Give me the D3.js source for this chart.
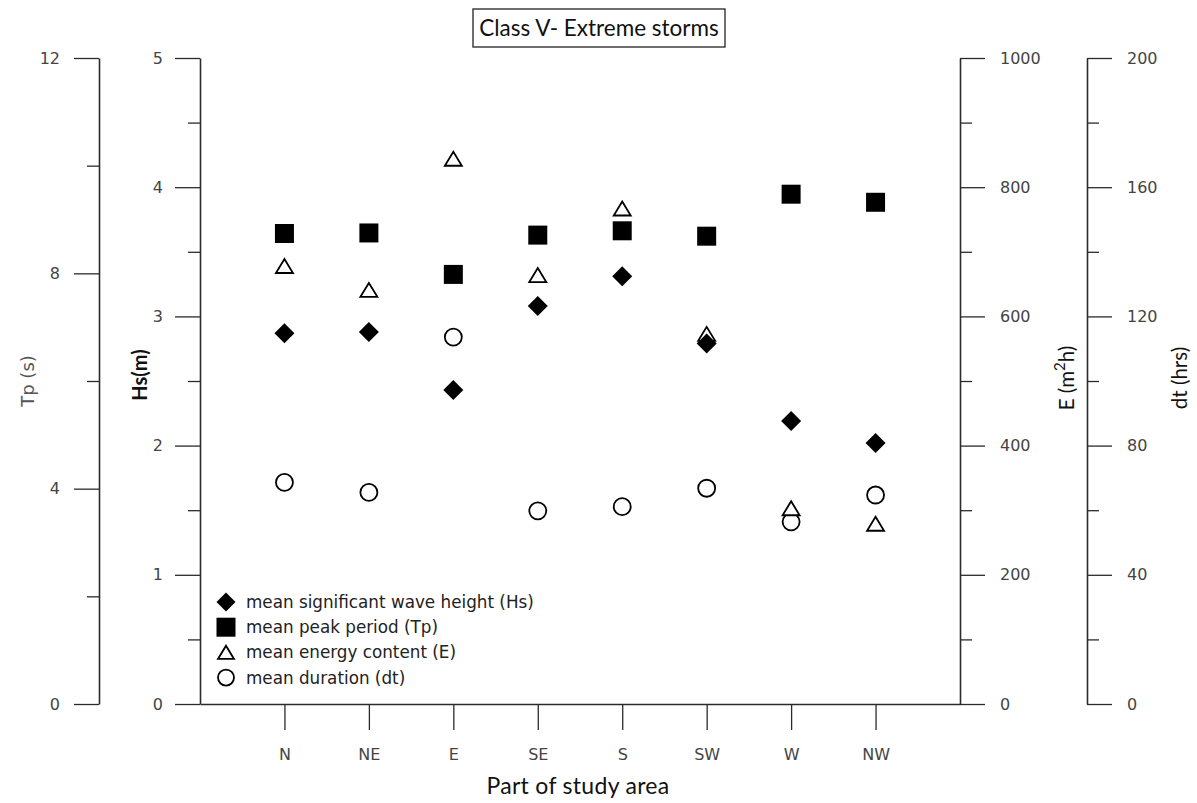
<!DOCTYPE html>
<html>
<head>
<meta charset="utf-8">
<script src="https://cdn.jsdelivr.net/npm/d3@7"></script>
<style>
  body { margin: 0; background: #fff; }
  svg { display: block; }
</style>
</head>
<body>
<svg id="chart" width="1197" height="803"></svg>
<script>
// Storm class V statistics per part of the study area
const regions = ["N", "NE", "E", "SE", "S", "SW", "W", "NW"];
const hsValues = [2.87, 2.88, 2.43, 3.08, 3.31, 2.79, 2.19, 2.02];          // m
const tpValues = [8.74, 8.75, 7.98, 8.71, 8.79, 8.69, 9.47, 9.32];          // s
const energyValues = [678, 641, 844, 664, 767, 573, 303, 279];              // m2h
const durationValues = [68.6, 65.5, 113.6, 59.8, 61.1, 66.8, 56.4, 64.7];   // hrs

const hsTicks = [0, 1, 2, 3, 4, 5];
const tpTicks = [0, 4, 8, 12];
const energyTicks = [0, 200, 400, 600, 800, 1000];
const durationTicks = [0, 40, 80, 120, 160, 200];

const legendLabels = [
  "mean significant wave height (Hs)",
  "mean peak period (Tp)",
  "mean energy content (E)",
  "mean duration (dt)"
];
const titleText = "Class V- Extreme storms";
const xTitle = "Part of study area";

const svg = d3.select("#chart");
const W = 1197, H = 803;
const plot = { left: 200, right: 960, top: 58, bottom: 704 };
const axisX = { tp: 99, hs: 200, e: 960, dt: 1087 };
const axisColor = "#2b2b2b";
const tickFont = "'DejaVu Sans', Verdana, sans-serif";
const labelFont = "Lato, 'Open Sans', sans-serif";

svg.append("rect").attr("width", W).attr("height", H).attr("fill", "#fff");

// Scales
const x = d3.scalePoint().domain(regions).range([plot.left, plot.right]).padding(1);
const yHs = d3.scaleLinear().domain([0, 5]).range([plot.bottom, plot.top]);
const yTp = d3.scaleLinear().domain([0, 12]).range([plot.bottom, plot.top]);
const yE = d3.scaleLinear().domain([0, 1000]).range([plot.bottom, plot.top]);
const yDt = d3.scaleLinear().domain([0, 200]).range([plot.bottom, plot.top]);

function mids(ticks) {
  const out = [];
  for (let i = 0; i < ticks.length - 1; i++) out.push((ticks[i] + ticks[i + 1]) / 2);
  return out;
}

// Vertical axis with long labelled ticks and short unlabelled minor ticks
function drawAxis(scale, ticks, xpos, side, pad) {
  const make = side === "left" ? d3.axisLeft : d3.axisRight;
  const g = svg.append("g").attr("transform", `translate(${xpos},0)`);
  g.append("g")
    .call(make(scale).tickValues(mids(ticks)).tickSize(12).tickSizeOuter(0).tickFormat(""))
    .call(s => s.select(".domain").remove());
  const major = g.append("g")
    .call(make(scale).tickValues(ticks).tickSize(25).tickSizeOuter(0)
      .tickPadding(pad).tickFormat(d3.format("d")));
  g.selectAll("line").attr("stroke", axisColor).attr("stroke-width", 1.3);
  major.select(".domain").attr("stroke", axisColor).attr("stroke-width", 1.6);
  major.selectAll("text")
    .attr("font-family", tickFont).attr("font-size", 16).attr("fill", "#444");
  return g;
}

drawAxis(yTp, tpTicks, axisX.tp, "left", 14);
drawAxis(yHs, hsTicks, axisX.hs, "left", 12);
drawAxis(yE, energyTicks, axisX.e, "right", 15);
drawAxis(yDt, durationTicks, axisX.dt, "right", 15);

// Category axis
const gx = svg.append("g").attr("transform", `translate(0,${plot.bottom})`)
  .call(d3.axisBottom(x).tickSize(26).tickSizeOuter(0).tickPadding(19));
gx.select(".domain").attr("stroke", axisColor).attr("stroke-width", 1.6);
gx.selectAll("line").attr("stroke", axisColor).attr("stroke-width", 1.3);
gx.selectAll("text").attr("font-family", tickFont).attr("font-size", 16).attr("fill", "#444");

// Axis titles
function vTitle(cx, cy, weight, color, family, size) {
  return svg.append("text")
    .attr("transform", `translate(${cx},${cy}) rotate(-90)`)
    .attr("text-anchor", "middle").attr("dominant-baseline", "central")
    .attr("font-family", family).attr("font-size", size)
    .attr("font-weight", weight).attr("fill", color);
}
vTitle(27, 381, "normal", "#555", tickFont, 18).text("Tp (s)");
vTitle(139, 375, "bold", "#111", labelFont, 20).text("Hs(m)");
const eT = vTitle(1066, 378, "normal", "#111", labelFont, 20.5);
eT.append("tspan").text("E (m");
eT.append("tspan").attr("font-size", 15).attr("dy", -7).text("2");
eT.append("tspan").attr("dy", 7).text("h)");
vTitle(1179, 378, "normal", "#111", labelFont, 20.5).text("dt (hrs)");

svg.append("text")
  .attr("x", 578).attr("y", 794).attr("text-anchor", "middle")
  .attr("font-family", labelFont).attr("font-size", 23).attr("fill", "#111")
  .attr("letter-spacing", 0.3)
  .text(xTitle);

// Title box
svg.append("rect")
  .attr("x", 473).attr("y", 9).attr("width", 252).attr("height", 38)
  .attr("fill", "#fff").attr("stroke", "#222").attr("stroke-width", 1.3);
svg.append("text")
  .attr("x", 599).attr("y", 36).attr("text-anchor", "middle")
  .attr("font-family", labelFont).attr("font-size", 22.5).attr("fill", "#111")
  .text(titleText);

// Marker shapes (all centred on the bounding box)
const markers = {
  diamond: (c, r) => { c.moveTo(0, -r); c.lineTo(r, 0); c.lineTo(0, r); c.lineTo(-r, 0); c.closePath(); },
  square: (c, r) => { c.rect(-r, -r, 2 * r, 2 * r); },
  triangle: (c, r) => { const h = r * 0.82; c.moveTo(0, -h); c.lineTo(r, h); c.lineTo(-r, h); c.closePath(); },
  circle: (c, r) => { c.moveTo(r, 0); c.arc(0, 0, r, 0, 2 * Math.PI); }
};
function markerPath(kind, r) {
  const p = d3.path();
  markers[kind](p, r);
  return p.toString();
}

const series = [
  { values: hsValues, scale: yHs, kind: "diamond", r: 10, fill: "#000", stroke: "none", sw: 0 },
  { values: tpValues, scale: yTp, kind: "square", r: 9.5, fill: "#000", stroke: "none", sw: 0 },
  { values: energyValues, scale: yE, kind: "triangle", r: 8.5, fill: "#fff", stroke: "#000", sw: 1.8 },
  { values: durationValues, scale: yDt, kind: "circle", r: 8.5, fill: "#fff", stroke: "#000", sw: 1.8 }
];

// Draw order: circles and triangles below the filled markers
[series[3], series[2], series[1], series[0]].forEach(s => {
  svg.append("g").selectAll("path")
    .data(regions.map((r, i) => ({ region: r, value: s.values[i] })))
    .join("path")
    .attr("transform", d => `translate(${x(d.region)},${s.scale(d.value)})`)
    .attr("d", markerPath(s.kind, s.r))
    .attr("fill", s.fill).attr("stroke", s.stroke).attr("stroke-width", s.sw);
});

// Legend
const legend = svg.append("g").attr("transform", "translate(226,602)");
series.forEach((s, i) => {
  const row = legend.append("g").attr("transform", `translate(0,${i * 25.2})`);
  row.append("path").attr("d", markerPath(s.kind, s.kind === "diamond" ? 9.5 : s.kind === "square" ? 9.5 : 8))
    .attr("fill", s.fill).attr("stroke", s.stroke).attr("stroke-width", s.sw);
  row.append("text").attr("x", 20).attr("y", 0).attr("dominant-baseline", "central")
    .attr("font-family", tickFont).attr("font-size", 16.8).attr("fill", "#222")
    .text(legendLabels[i]);
});
</script>
</body>
</html>
